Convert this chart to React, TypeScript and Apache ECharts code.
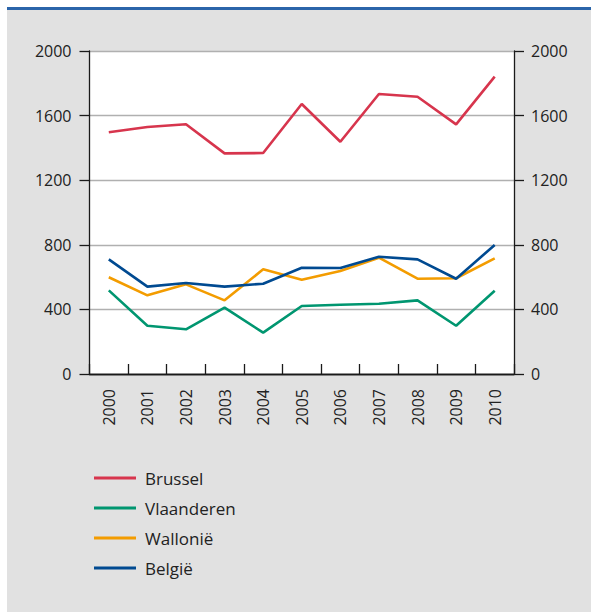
import React, { useEffect, useRef } from "react";
import * as echarts from "echarts";

const years = ["2000", "2001", "2002", "2003", "2004", "2005", "2006", "2007", "2008", "2009", "2010"];
const brussel = [1497, 1529, 1546, 1366, 1368, 1672, 1438, 1734, 1717, 1546, 1841];
const vlaanderen = [518, 299, 277, 411, 256, 421, 429, 435, 456, 299, 516];
const wallonie = [599, 487, 555, 456, 648, 584, 638, 720, 590, 593, 716];
const belgie = [710, 541, 563, 541, 559, 658, 656, 726, 710, 590, 799];
const seriesNames = ["Brussel", "Vlaanderen", "Wallonië", "België"];
const seriesColors = ["#d7354d", "#009670", "#f39c00", "#004a91"];
const yTicks = { min: 0, max: 2000, interval: 400 };

const FONT = "'Open Sans', 'Noto Sans', sans-serif";

export default function App() {
  const ref = useRef<HTMLDivElement>(null);
  useEffect(() => {
    if (!ref.current) return;
    const chart = echarts.init(ref.current, undefined, { renderer: "svg" });
    const data = [brussel, vlaanderen, wallonie, belgie];
    const yAxisCommon = {
      type: "value" as const,
      min: yTicks.min,
      max: yTicks.max,
      interval: yTicks.interval,
      axisLine: { show: true, lineStyle: { color: "#1a1a1a", width: 1.3 } },
      axisTick: { show: true, length: 10, lineStyle: { color: "#1a1a1a", width: 1.3 } },
      axisLabel: { color: "#222", fontSize: 16, fontFamily: FONT, formatter: (v: number) => String(v) },
    };
    chart.setOption({
      animation: false,
      backgroundColor: "#ffffff",
      textStyle: { fontFamily: FONT },
      graphic: [
        { type: "rect", z: -10, shape: { x: 7, y: 10, width: 584, height: 602 }, style: { fill: "#e1e1e1" } },
        { type: "rect", z: -10, shape: { x: 7, y: 7, width: 584, height: 3 }, style: { fill: "#2b65aa" } },
        { type: "rect", z: -9, shape: { x: 89.5, y: 51, width: 424.5, height: 323 }, style: { fill: "#ffffff" } },
      ],
      grid: { left: 89.5, top: 51, width: 424.5, height: 323, containLabel: false },
      legend: {
        orient: "vertical",
        left: 89,
        top: 463,
        itemWidth: 42,
        itemHeight: 3,
        itemGap: 10,
        icon: "rect",
        data: seriesNames,
        textStyle: { fontSize: 17, color: "#222", fontFamily: FONT, lineHeight: 20, padding: [0, 0, 0, 4] },
      },
      xAxis: [
        {
          type: "category",
          data: years,
          position: "bottom",
          boundaryGap: true,
          axisLine: { show: true, lineStyle: { color: "#1a1a1a", width: 1.3 } },
          axisTick: { show: true, inside: true, length: 10, lineStyle: { color: "#1a1a1a", width: 1.3 } },
          axisLabel: { rotate: 90, margin: 15, color: "#222", fontSize: 16, fontFamily: FONT },
          splitLine: { show: false },
        },
        {
          type: "category",
          data: years,
          position: "top",
          axisLine: { show: true, lineStyle: { color: "#1a1a1a", width: 1.3 } },
          axisTick: { show: false },
          axisLabel: { show: false },
          splitLine: { show: false },
        },
      ],
      yAxis: [
        {
          ...yAxisCommon,
          position: "left",
          axisLabel: { ...yAxisCommon.axisLabel, margin: 18 },
          splitLine: { show: true, lineStyle: { color: "#b0b0b0", width: 1.3 } },
        },
        {
          ...yAxisCommon,
          position: "right",
          axisLabel: { ...yAxisCommon.axisLabel, margin: 17 },
          splitLine: { show: false },
        },
      ],
      series: seriesNames.map((name, i) => ({
        name,
        type: "line",
        data: data[i],
        xAxisIndex: 0,
        yAxisIndex: 0,
        symbol: "none",
        smooth: false,
        color: seriesColors[i],
        lineStyle: { color: seriesColors[i], width: 2.6 },
      })),
    });
    return () => chart.dispose();
  }, []);
  return (
    <div
      ref={ref}
      style={{ position: "absolute", left: 0, top: 0, width: 591, height: 612 }}
    />
  );
}
